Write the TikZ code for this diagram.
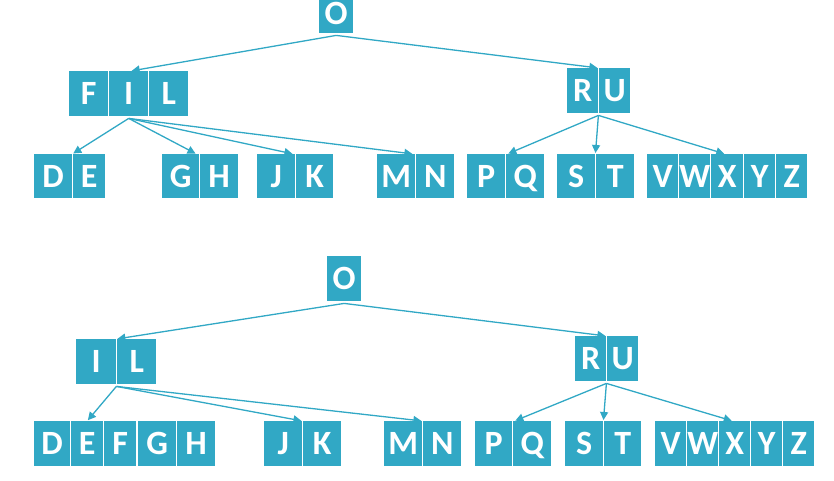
\documentclass[tikz,border=0pt]{standalone}
\usepackage{fontspec}
\setmainfont{Carlito}
\usetikzlibrary{arrows.meta}
\definecolor{tcol}{HTML}{31A8C5}
\tikzset{
  cell/.style={fill=tcol, text=white, font=\fontsize{34}{36}\selectfont\bfseries,
    inner sep=0pt, anchor=north west, minimum height=45pt,
    text height=22pt, text depth=0pt, align=center},
  link/.style={draw=tcol, line width=1.3pt, -{Triangle[length=8pt,width=8pt]}, shorten >=1pt}
}
\begin{document}
\begin{tikzpicture}[x=1pt,y=-1pt]
\useasboundingbox (0,0) rectangle (834,480);
% ---------- top tree ----------
\node[cell, minimum width=34pt, minimum height=33pt, text height=21pt, text depth=5pt] (tO) at (319,0) {O};
\node[cell, minimum width=39pt] (tF) at (69,71) {F};
\node[cell, minimum width=39pt] (tI) at (109,71) {I};
\node[cell, minimum width=39pt] (tL) at (149,71) {L};
\node[cell, minimum width=31pt] (tR) at (567,68) {R};
\node[cell, minimum width=31pt] (tU) at (599,68) {U};
\node[cell, minimum width=38pt, minimum height=44pt] (tD) at (34,154) {D};
\node[cell, minimum width=32pt, minimum height=44pt] (tE) at (73,154) {E};
\node[cell, minimum width=37pt, minimum height=44pt] (tG) at (162,154) {G};
\node[cell, minimum width=38pt, minimum height=44pt] (tH) at (200,154) {H};
\node[cell, minimum width=38pt, minimum height=44pt] (tJ) at (257,154) {J};
\node[cell, minimum width=37pt, minimum height=44pt] (tK) at (296,154) {K};
\node[cell, minimum width=38pt, minimum height=44pt] (tM) at (377,154) {M};
\node[cell, minimum width=38pt, minimum height=44pt] (tN) at (416,154) {N};
\node[cell, minimum width=38pt, minimum height=44pt] (tP) at (467,154) {P};
\node[cell, minimum width=38pt, minimum height=44pt] (tQ) at (506,154) {Q};
\node[cell, minimum width=38pt, minimum height=44pt] (tS) at (557,154) {S};
\node[cell, minimum width=38pt, minimum height=44pt] (tT) at (596,154) {T};
\node[cell, minimum width=31pt, minimum height=44pt] (tV) at (647,154) {V};
\node[cell, minimum width=31pt, minimum height=44pt] (tW) at (679,154) {W};
\node[cell, minimum width=32pt, minimum height=44pt] (tX) at (711,154) {X};
\node[cell, minimum width=31pt, minimum height=44pt] (tY) at (744,154) {Y};
\node[cell, minimum width=31pt, minimum height=44pt] (tZ) at (776,154) {Z};
\draw[link] ([yshift=-2pt]tO.south) -- ([xshift=2pt]tI.north);
\draw[link] ([yshift=-2pt]tO.south) -- (tR.north east);
\draw[link] ([yshift=-2pt]tI.south) -- (tD.north east);
\draw[link] ([yshift=-2pt]tI.south) -- ([xshift=-3pt]tG.north east);
\draw[link] ([yshift=-2pt]tI.south) -- ([xshift=-2pt]tJ.north east);
\draw[link] ([yshift=-2pt]tI.south) -- ([xshift=-2pt]tM.north east);
\draw[link] ([yshift=-2pt]tR.south east) -- ([xshift=2pt]tP.north east);
\draw[link] ([yshift=-2pt]tR.south east) -- (tS.north east);
\draw[link] ([yshift=-2pt]tR.south east) -- ([xshift=-2pt]tX.north);
% ---------- bottom tree ----------
\node[cell, minimum width=34pt] (bO) at (327,256) {O};
\node[cell, minimum width=40pt] (bI) at (76,339) {I};
\node[cell, minimum width=39pt] (bL) at (117,339) {L};
\node[cell, minimum width=31pt] (bR) at (575,336) {R};
\node[cell, minimum width=31pt] (bU) at (607,336) {U};
\node[cell, minimum width=36pt] (bD) at (34,421) {D};
\node[cell, minimum width=32pt] (bE) at (71,421) {E};
\node[cell, minimum width=32pt] (bF) at (104,421) {F};
\node[cell, minimum width=38pt] (bG) at (138,421) {G};
\node[cell, minimum width=38pt] (bH) at (177,421) {H};
\node[cell, minimum width=38pt] (bJ) at (264,421) {J};
\node[cell, minimum width=38pt] (bK) at (303,421) {K};
\node[cell, minimum width=38pt] (bM) at (384,421) {M};
\node[cell, minimum width=38pt] (bN) at (423,421) {N};
\node[cell, minimum width=37pt] (bP) at (475,421) {P};
\node[cell, minimum width=38pt] (bQ) at (513,421) {Q};
\node[cell, minimum width=38pt] (bS) at (565,421) {S};
\node[cell, minimum width=37pt] (bT) at (604,421) {T};
\node[cell, minimum width=31pt] (bV) at (655,421) {V};
\node[cell, minimum width=31pt] (bW) at (687,421) {W};
\node[cell, minimum width=31pt] (bX) at (719,421) {X};
\node[cell, minimum width=31pt] (bY) at (751,421) {Y};
\node[cell, minimum width=31pt] (bZ) at (783,421) {Z};
\draw[link] ([yshift=-2pt]bO.south) -- (bI.north east);
\draw[link] ([yshift=-2pt]bO.south) -- (bR.north east);
\draw[link] ([yshift=-2pt]bI.south east) -- (bE.north);
\draw[link] ([yshift=-2pt]bI.south east) -- (bJ.north east);
\draw[link] ([yshift=-2pt]bI.south east) -- (bM.north east);
\draw[link] ([yshift=-2pt]bR.south east) -- ([xshift=2pt]bP.north east);
\draw[link] ([yshift=-2pt]bR.south east) -- (bS.north east);
\draw[link] ([yshift=-2pt]bR.south east) -- ([xshift=-2pt]bX.north);
\end{tikzpicture}
\end{document}
